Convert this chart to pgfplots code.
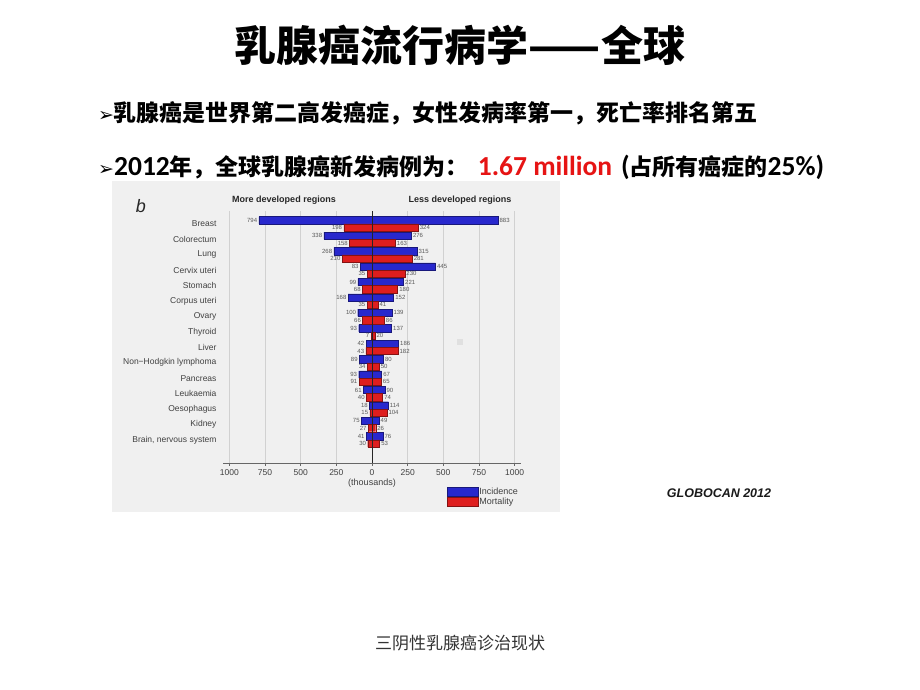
\documentclass[border=0pt]{standalone}
\usepackage{fontspec}
\usepackage{pgfplots}
\usepackage{pgfplotstable}
\pgfplotsset{compat=1.18}
\setmainfont{Liberation Sans}
\newfontfamily\cjk{Noto Sans CJK SC}
\newfontfamily\lat{Carlito}
\newfontfamily\djv{DejaVu Sans}
\definecolor{incblue}{RGB}{40,40,205}
\definecolor{morred}{RGB}{222,30,30}
\definecolor{panelgray}{RGB}{240,240,240}
\definecolor{hired}{RGB}{230,20,20}

\pgfplotstableread{
y mi mm li lm
14 794 198 883 324
13 338 158 276 163
12 268 210 315 281
11 83 35 445 230
10 99 68 221 180
9 168 35 152 41
8 100 66 139 86
7 93 7 137 20
6 42 43 186 182
5 89 34 80 50
4 93 91 67 65
3 61 40 90 74
2 18 15 114 104
1 75 27 49 26
0 41 30 76 53
}\data

\begin{document}
\begin{tikzpicture}[x=1pt,y=1pt]
\fill[white] (0,0) rectangle (920,690);
\fill[panelgray] (112,178) rectangle (560,509);
\node[font=\cjk\bfseries\fontsize{42}{42}\selectfont] at (460,645) {乳腺癌流行病学——全球};
\node[anchor=west, inner sep=0pt, font=\cjk\bfseries\fontsize{23}{23}\selectfont] at (98,577)
  {{\djv\fontsize{19}{19}\selectfont ➢}\hspace{-1pt}乳腺癌是世界第二高发癌症，女性发病率第一，死亡率排名第五};
\node[anchor=west, inner sep=0pt, font=\cjk\bfseries\fontsize{23}{23}\selectfont] at (98,523)
  {{\djv\fontsize{19}{19}\selectfont ➢}{\lat\bfseries\fontsize{27.5}{27.5}\selectfont 2012}年，全球乳腺癌新发病例为：\hspace{9pt}{\lat\bfseries\fontsize{27.5}{27.5}\selectfont\color{hired}1.67 million}\hspace{9pt}{\lat\bfseries\fontsize{27.5}{27.5}\selectfont (}占所有癌症的{\lat\bfseries\fontsize{27.5}{27.5}\selectfont 25\%)}};
\node[font=\cjk\fontsize{17}{17}\selectfont, text=black!80] at (460,47) {三阴性乳腺癌诊治现状};

\node[font=\itshape\fontsize{18}{18}\selectfont, text=black!85] at (141,484) {b};
\node[font=\bfseries\fontsize{9}{9}\selectfont, text=black!85] at (284,490) {More developed regions};
\node[font=\bfseries\fontsize{9}{9}\selectfont, text=black!85] at (460,490) {Less developed regions};
\node[font=\bfseries\itshape\fontsize{12.5}{12.5}\selectfont, text=black!90] at (719,197) {GLOBOCAN 2012};
\fill[black!12] (457,345) rectangle (463,351);

\begin{axis}[
  at={(223pt,227pt)}, anchor=south west, scale only axis,
  width=298pt, height=252pt,
  xmin=-1045, xmax=1045, ymin=-1.5, ymax=14.84,
  /pgf/number format/assume math mode=true,
  axis x line*=bottom, axis y line*=left,
  x axis line style={-, black!60, line width=0.6pt},
  y axis line style={draw=none},
  xtick={-1000,-750,-500,-250,0,250,500,750,1000},
  xticklabels={1000,750,500,250,0,250,500,750,1000},
  tick align=outside, major tick length=3pt,
  xtick style={black!60, line width=0.6pt},
  ytick={0,...,14},
  yticklabels={{Brain, nervous system},Kidney,Oesophagus,Leukaemia,Pancreas,Non−Hodgkin lymphoma,Liver,Thyroid,Ovary,Corpus uteri,Stomach,Cervix uteri,Lung,Colorectum,Breast},
  ytick style={draw=none},
  ticklabel style={font=\fontsize{8.5}{8.5}\selectfont, text=black!75},
  xmajorgrids, major grid style={black!18, line width=0.7pt},
  xlabel={(thousands)}, xlabel style={font=\fontsize{9}{9}\selectfont, text=black!75, yshift=3pt},
  xbar, bar width=7.3pt,
  nodes near coords,
  nodes near coords style={font=\fontsize{6}{6}\selectfont, text=black!65, inner sep=1.5pt},
  legend style={at={(0.752,-0.095)}, anchor=north west, draw=none, fill=none, inner sep=0pt,
    row sep=0pt, font=\fontsize{9}{9}\selectfont, text=black!75,
    nodes={inner sep=0.6pt, text height=6.6pt, text depth=1.8pt}},
  legend cell align=left,
  legend image code/.code={\draw[#1, line width=0.5pt] (0pt,-4.6pt) rectangle (31pt,4.6pt);},
]
\addplot[forget plot, fill=incblue, draw=incblue!60!black, line width=0.4pt, bar shift=3.65pt,
  point meta=explicit, nodes near coords align={left}]
  table[x expr=-\thisrow{mi}, y=y, meta=mi] {\data};
\addplot[forget plot, fill=morred, draw=morred!60!black, line width=0.4pt, bar shift=-3.65pt,
  point meta=explicit, nodes near coords align={left}]
  table[x expr=-\thisrow{mm}, y=y, meta=mm] {\data};
\addplot[fill=incblue, draw=incblue!60!black, line width=0.4pt, bar shift=3.65pt,
  point meta=explicit, nodes near coords align={right}]
  table[x=li, y=y, meta=li] {\data};
\addlegendentry{Incidence}
\addplot[fill=morred, draw=morred!60!black, line width=0.4pt, bar shift=-3.65pt,
  point meta=explicit, nodes near coords align={right}]
  table[x=lm, y=y, meta=lm] {\data};
\addlegendentry{Mortality}
\draw[black!85, line width=0.8pt] (axis cs:0,-1.8) -- (axis cs:0,14.84);
\end{axis}
\end{tikzpicture}
\end{document}
